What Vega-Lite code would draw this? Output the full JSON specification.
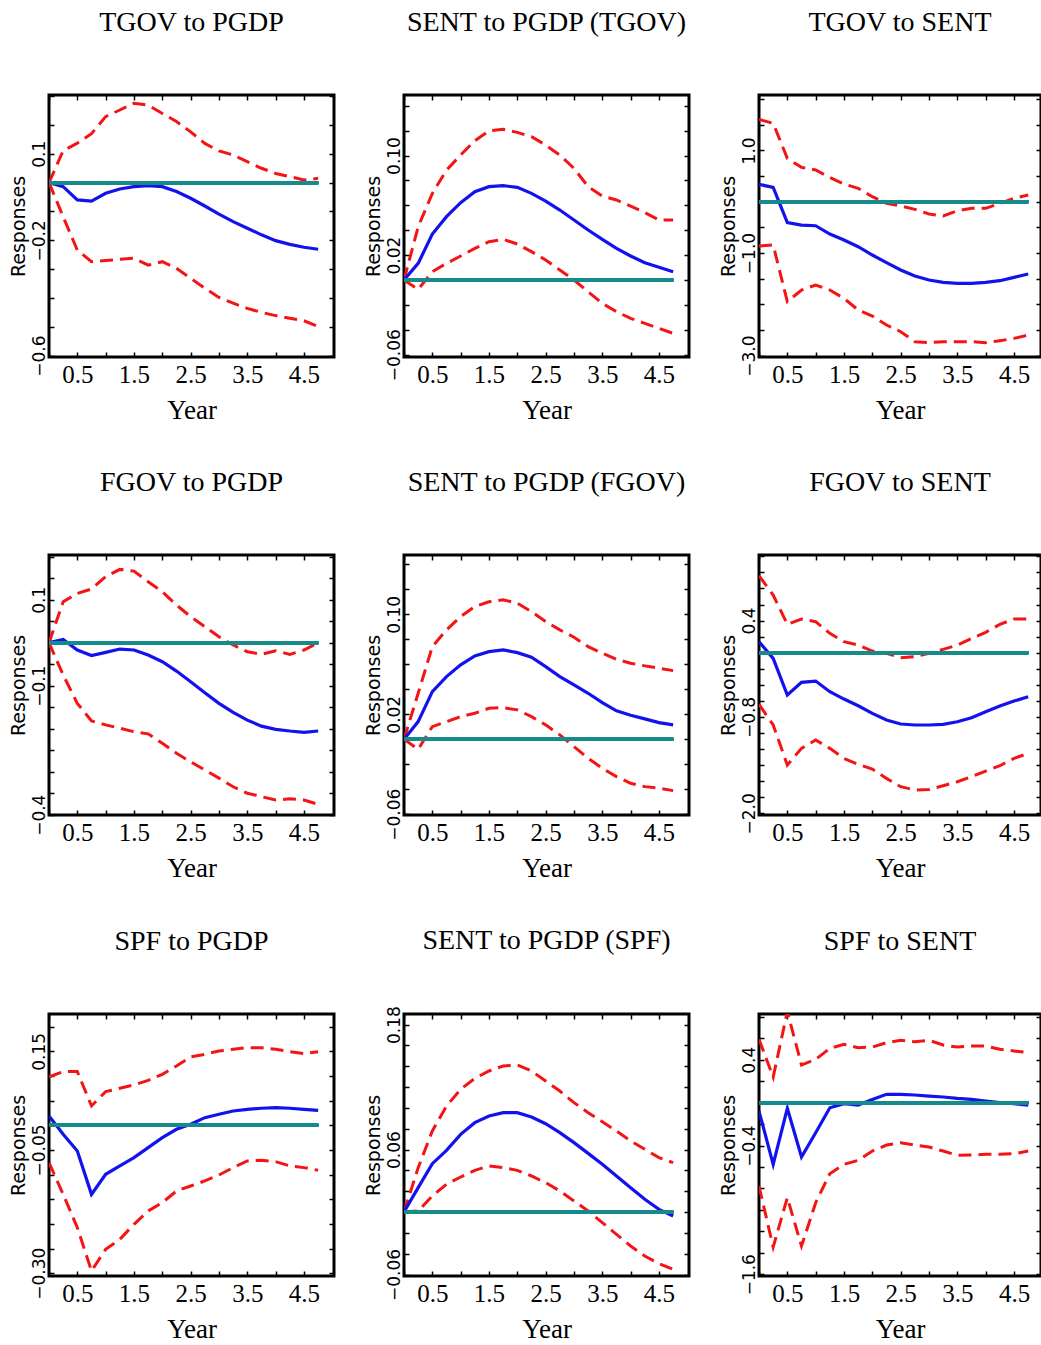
{
"$schema": "https://vega.github.io/schema/vega-lite/v6.json",
"padding": {"left": 7, "top": 7, "right": 0, "bottom": 0},
"background": "white",
"data": {"values": [
{"p":1,"t":0,"lo":0,"md":0,"hi":0},{"p":1,"t":0.25,"lo":-0.118,"md":-0.014,"hi":0.111},{"p":1,"t":0.5,"lo":-0.234,"md":-0.06,"hi":0.137},{"p":1,"t":0.75,"lo":-0.274,"md":-0.064,"hi":0.17},{"p":1,"t":1,"lo":-0.27,"md":-0.037,"hi":0.229},{"p":1,"t":1.25,"lo":-0.266,"md":-0.022,"hi":0.252},{"p":1,"t":1.5,"lo":-0.262,"md":-0.014,"hi":0.275},{"p":1,"t":1.75,"lo":-0.286,"md":-0.01,"hi":0.269},{"p":1,"t":2,"lo":-0.274,"md":-0.014,"hi":0.24},{"p":1,"t":2.25,"lo":-0.297,"md":-0.031,"hi":0.212},{"p":1,"t":2.5,"lo":-0.332,"md":-0.054,"hi":0.176},{"p":1,"t":2.75,"lo":-0.366,"md":-0.081,"hi":0.136},{"p":1,"t":3,"lo":-0.398,"md":-0.109,"hi":0.11},{"p":1,"t":3.25,"lo":-0.418,"md":-0.135,"hi":0.096},{"p":1,"t":3.5,"lo":-0.436,"md":-0.158,"hi":0.073},{"p":1,"t":3.75,"lo":-0.45,"md":-0.181,"hi":0.05},{"p":1,"t":4,"lo":-0.461,"md":-0.201,"hi":0.032},{"p":1,"t":4.25,"lo":-0.47,"md":-0.214,"hi":0.021},{"p":1,"t":4.5,"lo":-0.479,"md":-0.224,"hi":0.009},{"p":1,"t":4.75,"lo":-0.499,"md":-0.231,"hi":0.015},
{"p":2,"t":0,"lo":0,"md":0,"hi":0},{"p":2,"t":0.25,"lo":-0.0075,"md":0.0134,"hi":0.0428},{"p":2,"t":0.5,"lo":0.0067,"md":0.0369,"hi":0.0696},{"p":2,"t":0.75,"lo":0.0134,"md":0.0509,"hi":0.0883},{"p":2,"t":1,"lo":0.0193,"md":0.0621,"hi":0.1004},{"p":2,"t":1.25,"lo":0.0254,"md":0.0709,"hi":0.1119},{"p":2,"t":1.5,"lo":0.0308,"md":0.075,"hi":0.1199},{"p":2,"t":1.75,"lo":0.0327,"md":0.0758,"hi":0.121},{"p":2,"t":2,"lo":0.0289,"md":0.0744,"hi":0.1186},{"p":2,"t":2.25,"lo":0.0228,"md":0.0696,"hi":0.1151},{"p":2,"t":2.5,"lo":0.0161,"md":0.0634,"hi":0.1084},{"p":2,"t":2.75,"lo":0.008,"md":0.0562,"hi":0.1004},{"p":2,"t":3,"lo":0,"md":0.0482,"hi":0.0897},{"p":2,"t":3.25,"lo":-0.0094,"md":0.0402,"hi":0.075},{"p":2,"t":3.5,"lo":-0.0187,"md":0.0327,"hi":0.0675},{"p":2,"t":3.75,"lo":-0.0254,"md":0.0254,"hi":0.0643},{"p":2,"t":4,"lo":-0.0308,"md":0.0193,"hi":0.0594},{"p":2,"t":4.25,"lo":-0.0348,"md":0.0139,"hi":0.0541},{"p":2,"t":4.5,"lo":-0.0388,"md":0.0102,"hi":0.0482},{"p":2,"t":4.75,"lo":-0.0428,"md":0.0067,"hi":0.0482},
{"p":3,"t":0,"lo":-0.864,"md":0.338,"hi":1.604},{"p":3,"t":0.25,"lo":-0.844,"md":0.279,"hi":1.526},{"p":3,"t":0.5,"lo":-1.948,"md":-0.409,"hi":0.844},{"p":3,"t":0.75,"lo":-1.721,"md":-0.455,"hi":0.669},{"p":3,"t":1,"lo":-1.623,"md":-0.468,"hi":0.617},{"p":3,"t":1.25,"lo":-1.721,"md":-0.63,"hi":0.474},{"p":3,"t":1.5,"lo":-1.883,"md":-0.747,"hi":0.344},{"p":3,"t":1.75,"lo":-2.11,"md":-0.877,"hi":0.26},{"p":3,"t":2,"lo":-2.227,"md":-1.039,"hi":0.097},{"p":3,"t":2.25,"lo":-2.403,"md":-1.188,"hi":-0.032},{"p":3,"t":2.5,"lo":-2.533,"md":-1.331,"hi":-0.084},{"p":3,"t":2.75,"lo":-2.727,"md":-1.448,"hi":-0.149},{"p":3,"t":3,"lo":-2.747,"md":-1.526,"hi":-0.24},{"p":3,"t":3.25,"lo":-2.727,"md":-1.572,"hi":-0.279},{"p":3,"t":3.5,"lo":-2.727,"md":-1.591,"hi":-0.175},{"p":3,"t":3.75,"lo":-2.727,"md":-1.591,"hi":-0.13},{"p":3,"t":4,"lo":-2.747,"md":-1.572,"hi":-0.13},{"p":3,"t":4.25,"lo":-2.708,"md":-1.539,"hi":-0.032},{"p":3,"t":4.5,"lo":-2.663,"md":-1.474,"hi":0.065},{"p":3,"t":4.75,"lo":-2.598,"md":-1.409,"hi":0.13},
{"p":4,"t":0,"lo":0,"md":0,"hi":0},{"p":4,"t":0.25,"lo":-0.075,"md":0.0078,"hi":0.0953},{"p":4,"t":0.5,"lo":-0.141,"md":-0.017,"hi":0.1147},{"p":4,"t":0.75,"lo":-0.182,"md":-0.03,"hi":0.125},{"p":4,"t":1,"lo":-0.191,"md":-0.0225,"hi":0.1535},{"p":4,"t":1.25,"lo":-0.199,"md":-0.0147,"hi":0.1705},{"p":4,"t":1.5,"lo":-0.207,"md":-0.017,"hi":0.1666},{"p":4,"t":1.75,"lo":-0.212,"md":-0.0287,"hi":0.1418},{"p":4,"t":2,"lo":-0.234,"md":-0.0442,"hi":0.1186},{"p":4,"t":2.25,"lo":-0.257,"md":-0.0659,"hi":0.0876},{"p":4,"t":2.5,"lo":-0.277,"md":-0.0907,"hi":0.0605},{"p":4,"t":2.75,"lo":-0.296,"md":-0.1163,"hi":0.0372},{"p":4,"t":3,"lo":-0.315,"md":-0.141,"hi":0.014},{"p":4,"t":3.25,"lo":-0.335,"md":-0.162,"hi":-0.0054},{"p":4,"t":3.5,"lo":-0.35,"md":-0.18,"hi":-0.0209},{"p":4,"t":3.75,"lo":-0.358,"md":-0.194,"hi":-0.0271},{"p":4,"t":4,"lo":-0.366,"md":-0.2015,"hi":-0.0186},{"p":4,"t":4.25,"lo":-0.363,"md":-0.2054,"hi":-0.0271},{"p":4,"t":4.5,"lo":-0.366,"md":-0.2085,"hi":-0.017},{"p":4,"t":4.75,"lo":-0.376,"md":-0.2054,"hi":0},
{"p":5,"t":0,"lo":0,"md":0,"hi":0},{"p":5,"t":0.25,"lo":-0.008,"md":0.0141,"hi":0.0368},{"p":5,"t":0.5,"lo":0.0101,"md":0.0381,"hi":0.0741},{"p":5,"t":0.75,"lo":0.0141,"md":0.0501,"hi":0.0875},{"p":5,"t":1,"lo":0.0181,"md":0.0595,"hi":0.0981},{"p":5,"t":1.25,"lo":0.0208,"md":0.0667,"hi":0.1061},{"p":5,"t":1.5,"lo":0.0248,"md":0.0701,"hi":0.11},{"p":5,"t":1.75,"lo":0.0253,"md":0.0715,"hi":0.1115},{"p":5,"t":2,"lo":0.0235,"md":0.0693,"hi":0.1088},{"p":5,"t":2.25,"lo":0.0181,"md":0.0656,"hi":0.1021},{"p":5,"t":2.5,"lo":0.0115,"md":0.0581,"hi":0.0941},{"p":5,"t":2.75,"lo":0.0035,"md":0.0501,"hi":0.0875},{"p":5,"t":3,"lo":-0.0059,"md":0.0435,"hi":0.0816},{"p":5,"t":3.25,"lo":-0.0152,"md":0.0368,"hi":0.0741},{"p":5,"t":3.5,"lo":-0.0232,"md":0.0293,"hi":0.0688},{"p":5,"t":3.75,"lo":-0.0299,"md":0.0227,"hi":0.064},{"p":5,"t":4,"lo":-0.0352,"md":0.0192,"hi":0.0608},{"p":5,"t":4.25,"lo":-0.0379,"md":0.0163,"hi":0.0587},{"p":5,"t":4.5,"lo":-0.0392,"md":0.0133,"hi":0.0568},{"p":5,"t":4.75,"lo":-0.0411,"md":0.0115,"hi":0.0549},
{"p":6,"t":0,"lo":-0.643,"md":0.137,"hi":0.959},{"p":6,"t":0.25,"lo":-0.9,"md":-0.0705,"hi":0.718},{"p":6,"t":0.5,"lo":-1.399,"md":-0.527,"hi":0.353},{"p":6,"t":0.75,"lo":-1.191,"md":-0.369,"hi":0.419},{"p":6,"t":1,"lo":-1.087,"md":-0.353,"hi":0.386},{"p":6,"t":1.25,"lo":-1.191,"md":-0.486,"hi":0.241},{"p":6,"t":1.5,"lo":-1.316,"md":-0.577,"hi":0.137},{"p":6,"t":1.75,"lo":-1.39,"md":-0.66,"hi":0.095},{"p":6,"t":2,"lo":-1.448,"md":-0.755,"hi":0.021},{"p":6,"t":2.25,"lo":-1.565,"md":-0.838,"hi":-0.008},{"p":6,"t":2.5,"lo":-1.668,"md":-0.888,"hi":-0.062},{"p":6,"t":2.75,"lo":-1.71,"md":-0.9,"hi":-0.05},{"p":6,"t":3,"lo":-1.702,"md":-0.9,"hi":-0.008},{"p":6,"t":3.25,"lo":-1.656,"md":-0.892,"hi":0.042},{"p":6,"t":3.5,"lo":-1.606,"md":-0.859,"hi":0.095},{"p":6,"t":3.75,"lo":-1.544,"md":-0.809,"hi":0.178},{"p":6,"t":4,"lo":-1.473,"md":-0.735,"hi":0.253},{"p":6,"t":4.25,"lo":-1.407,"md":-0.664,"hi":0.353},{"p":6,"t":4.5,"lo":-1.316,"md":-0.602,"hi":0.419},{"p":6,"t":4.75,"lo":-1.253,"md":-0.548,"hi":0.419},
{"p":7,"t":0,"lo":-0.0757,"md":0.0189,"hi":0.098},{"p":7,"t":0.25,"lo":-0.14,"md":-0.0182,"hi":0.1088},{"p":7,"t":0.5,"lo":-0.2074,"md":-0.052,"hi":0.1088},{"p":7,"t":0.75,"lo":-0.2953,"md":-0.14,"hi":0.0392},{"p":7,"t":1,"lo":-0.2514,"md":-0.0993,"hi":0.0682},{"p":7,"t":1.25,"lo":-0.2311,"md":-0.0824,"hi":0.075},{"p":7,"t":1.5,"lo":-0.2007,"md":-0.0655,"hi":0.0818},{"p":7,"t":1.75,"lo":-0.1737,"md":-0.0453,"hi":0.0912},{"p":7,"t":2,"lo":-0.1568,"md":-0.025,"hi":0.1034},{"p":7,"t":2.25,"lo":-0.1331,"md":-0.0081,"hi":0.1203},{"p":7,"t":2.5,"lo":-0.123,"md":0.002,"hi":0.1385},{"p":7,"t":2.75,"lo":-0.1128,"md":0.0155,"hi":0.1439},{"p":7,"t":3,"lo":-0.1007,"md":0.0223,"hi":0.1507},{"p":7,"t":3.25,"lo":-0.0858,"md":0.029,"hi":0.154},{"p":7,"t":3.5,"lo":-0.0723,"md":0.0324,"hi":0.1574},{"p":7,"t":3.75,"lo":-0.0709,"md":0.0345,"hi":0.1574},{"p":7,"t":4,"lo":-0.0737,"md":0.0358,"hi":0.154},{"p":7,"t":4.25,"lo":-0.0824,"md":0.0345,"hi":0.1493},{"p":7,"t":4.5,"lo":-0.0858,"md":0.0324,"hi":0.1453},{"p":7,"t":4.75,"lo":-0.0912,"md":0.0304,"hi":0.1493},
{"p":8,"t":0,"lo":0,"md":0,"hi":0},{"p":8,"t":0.25,"lo":0.001,"md":0.0234,"hi":0.0426},{"p":8,"t":0.5,"lo":0.0154,"md":0.0464,"hi":0.0778},{"p":8,"t":0.75,"lo":0.0266,"md":0.0592,"hi":0.1018},{"p":8,"t":1,"lo":0.0336,"md":0.0746,"hi":0.1178},{"p":8,"t":1.25,"lo":0.04,"md":0.0858,"hi":0.1283},{"p":8,"t":1.5,"lo":0.0442,"md":0.0922,"hi":0.1354},{"p":8,"t":1.75,"lo":0.0426,"md":0.0954,"hi":0.1402},{"p":8,"t":2,"lo":0.04,"md":0.0954,"hi":0.1411},{"p":8,"t":2.25,"lo":0.0346,"md":0.0912,"hi":0.1354},{"p":8,"t":2.5,"lo":0.0282,"md":0.0848,"hi":0.1258},{"p":8,"t":2.75,"lo":0.0202,"md":0.0762,"hi":0.1162},{"p":8,"t":3,"lo":0.0106,"md":0.0666,"hi":0.105},{"p":8,"t":3.25,"lo":0.001,"md":0.0563,"hi":0.0954},{"p":8,"t":3.5,"lo":-0.0102,"md":0.0458,"hi":0.0867},{"p":8,"t":3.75,"lo":-0.0214,"md":0.0346,"hi":0.0778},{"p":8,"t":4,"lo":-0.0326,"md":0.0234,"hi":0.0682},{"p":8,"t":4.25,"lo":-0.0422,"md":0.0122,"hi":0.0602},{"p":8,"t":4.5,"lo":-0.0496,"md":0.0026,"hi":0.0522},{"p":8,"t":4.75,"lo":-0.055,"md":-0.0038,"hi":0.0474},
{"p":9,"t":0,"lo":-0.778,"md":-0.078,"hi":0.591},{"p":9,"t":0.25,"lo":-1.347,"md":-0.575,"hi":0.239},{"p":9,"t":0.5,"lo":-0.886,"md":-0.053,"hi":0.85},{"p":9,"t":0.75,"lo":-1.337,"md":-0.507,"hi":0.351},{"p":9,"t":1,"lo":-0.933,"md":-0.28,"hi":0.404},{"p":9,"t":1.25,"lo":-0.662,"md":-0.047,"hi":0.507},{"p":9,"t":1.5,"lo":-0.575,"md":-0.009,"hi":0.544},{"p":9,"t":1.75,"lo":-0.538,"md":-0.022,"hi":0.513},{"p":9,"t":2,"lo":-0.451,"md":0.031,"hi":0.519},{"p":9,"t":2.25,"lo":-0.395,"md":0.078,"hi":0.56},{"p":9,"t":2.5,"lo":-0.373,"md":0.078,"hi":0.582},{"p":9,"t":2.75,"lo":-0.395,"md":0.072,"hi":0.569},{"p":9,"t":3,"lo":-0.414,"md":0.062,"hi":0.582},{"p":9,"t":3.25,"lo":-0.451,"md":0.053,"hi":0.538},{"p":9,"t":3.5,"lo":-0.491,"md":0.04,"hi":0.519},{"p":9,"t":3.75,"lo":-0.488,"md":0.031,"hi":0.529},{"p":9,"t":4,"lo":-0.482,"md":0.016,"hi":0.529},{"p":9,"t":4.25,"lo":-0.482,"md":0,"hi":0.498},{"p":9,"t":4.5,"lo":-0.476,"md":-0.009,"hi":0.482},{"p":9,"t":4.75,"lo":-0.451,"md":-0.022,"hi":0.467}
]},
"vconcat": [
{"hconcat": [
{"title": {"text": "TGOV to PGDP"}, "width": 285, "height": 262,
 "transform": [{"filter": "datum.p==1"}],
 "layer": [
  {"mark": {"type": "line", "color": "#F41414", "strokeWidth": 3, "strokeDash": [13, 7], "clip": true},
   "encoding": {"x": {"field": "t", "type": "quantitative", "scale": {"domain": [0, 5.03], "nice": false, "zero": false}, "axis": {"values": [0,0.5,1,1.5,2,2.5,3,3.5,4,4.5], "labelExpr": "(datum.value*2)%2==1 ? format(datum.value,'.1f') : ''", "title": "Year"}},
    "y": {"field": "lo", "type": "quantitative", "scale": {"domain": [-0.6046, 0.304], "nice": false, "zero": false}, "axis": {"values": [-0.6,-0.5,-0.4,-0.3,-0.2,-0.1,0,0.1,0.2,0.3], "labelExpr": "datum.value==-0.6?'−0.6':datum.value==-0.2?'−0.2':datum.value==0.1?'0.1':''", "title": "Responses"}}}},
  {"mark": {"type": "line", "color": "#F41414", "strokeWidth": 3, "strokeDash": [13, 7], "clip": true},
   "encoding": {"x": {"field": "t", "type": "quantitative", "axis": null}, "y": {"field": "hi", "type": "quantitative", "axis": null}}},
  {"mark": {"type": "line", "color": "#1212EE", "strokeWidth": 3.2, "clip": true},
   "encoding": {"x": {"field": "t", "type": "quantitative", "axis": null}, "y": {"field": "md", "type": "quantitative", "axis": null}}},
  {"mark": {"type": "rule", "color": "#178A8A", "strokeWidth": 3},
   "encoding": {"x": {"datum": 0, "axis": {"orient": "top", "values": [0,0.5,1,1.5,2,2.5,3,3.5,4,4.5], "labels": false, "title": null}}, "x2": {"datum": 4.75},
    "y": {"datum": 0, "axis": {"orient": "right", "values": [-0.6,-0.5,-0.4,-0.3,-0.2,-0.1,0,0.1,0.2,0.3], "labels": false, "title": null}}}}
 ],
 "resolve": {"axis": {"x": "independent", "y": "independent"}}},
{"title": {"text": "SENT to PGDP (TGOV)"}, "width": 285, "height": 262,
 "transform": [{"filter": "datum.p==2"}],
 "layer": [
  {"mark": {"type": "line", "color": "#F41414", "strokeWidth": 3, "strokeDash": [13, 7], "clip": true},
   "encoding": {"x": {"field": "t", "type": "quantitative", "scale": {"domain": [0, 5.03], "nice": false, "zero": false}, "axis": {"values": [0,0.5,1,1.5,2,2.5,3,3.5,4,4.5], "labelExpr": "(datum.value*2)%2==1 ? format(datum.value,'.1f') : ''", "title": "Year"}},
    "y": {"field": "lo", "type": "quantitative", "scale": {"domain": [-0.0618, 0.1486], "nice": false, "zero": false}, "axis": {"values": [-0.06,-0.04,-0.02,0,0.02,0.04,0.06,0.08,0.1,0.12,0.14], "labelExpr": "datum.value==-0.06?'−0.06':datum.value==0.02?'0.02':datum.value==0.1?'0.10':''", "title": "Responses"}}}},
  {"mark": {"type": "line", "color": "#F41414", "strokeWidth": 3, "strokeDash": [13, 7], "clip": true},
   "encoding": {"x": {"field": "t", "type": "quantitative", "axis": null}, "y": {"field": "hi", "type": "quantitative", "axis": null}}},
  {"mark": {"type": "line", "color": "#1212EE", "strokeWidth": 3.2, "clip": true},
   "encoding": {"x": {"field": "t", "type": "quantitative", "axis": null}, "y": {"field": "md", "type": "quantitative", "axis": null}}},
  {"mark": {"type": "rule", "color": "#178A8A", "strokeWidth": 3},
   "encoding": {"x": {"datum": 0, "axis": {"orient": "top", "values": [0,0.5,1,1.5,2,2.5,3,3.5,4,4.5], "labels": false, "title": null}}, "x2": {"datum": 4.75},
    "y": {"datum": 0, "axis": {"orient": "right", "values": [-0.06,-0.04,-0.02,0,0.02,0.04,0.06,0.08,0.1,0.12,0.14], "labels": false, "title": null}}}}
 ],
 "resolve": {"axis": {"x": "independent", "y": "independent"}}},
{"title": {"text": "TGOV to SENT"}, "width": 282, "height": 262,
 "transform": [{"filter": "datum.p==3"}],
 "layer": [
  {"mark": {"type": "line", "color": "#F41414", "strokeWidth": 3, "strokeDash": [13, 7], "clip": true},
   "encoding": {"x": {"field": "t", "type": "quantitative", "scale": {"domain": [0, 4.976], "nice": false, "zero": false}, "axis": {"values": [0,0.5,1,1.5,2,2.5,3,3.5,4,4.5], "labelExpr": "(datum.value*2)%2==1 ? format(datum.value,'.1f') : ''", "title": "Year"}},
    "y": {"field": "lo", "type": "quantitative", "scale": {"domain": [-3.0255, 2.0787], "nice": false, "zero": false}, "axis": {"values": [-3,-2.5,-2,-1.5,-1,-0.5,0,0.5,1,1.5,2], "labelExpr": "datum.value==-3?'−3.0':datum.value==-1?'−1.0':datum.value==1?'1.0':''", "title": "Responses"}}}},
  {"mark": {"type": "line", "color": "#F41414", "strokeWidth": 3, "strokeDash": [13, 7], "clip": true},
   "encoding": {"x": {"field": "t", "type": "quantitative", "axis": null}, "y": {"field": "hi", "type": "quantitative", "axis": null}}},
  {"mark": {"type": "line", "color": "#1212EE", "strokeWidth": 3.2, "clip": true},
   "encoding": {"x": {"field": "t", "type": "quantitative", "axis": null}, "y": {"field": "md", "type": "quantitative", "axis": null}}},
  {"mark": {"type": "rule", "color": "#178A8A", "strokeWidth": 3},
   "encoding": {"x": {"datum": 0, "axis": {"orient": "top", "values": [0,0.5,1,1.5,2,2.5,3,3.5,4,4.5], "labels": false, "title": null}}, "x2": {"datum": 4.75},
    "y": {"datum": 0, "axis": {"orient": "right", "values": [-3,-2.5,-2,-1.5,-1,-0.5,0,0.5,1,1.5,2], "labels": false, "title": null}}}}
 ],
 "resolve": {"axis": {"x": "independent", "y": "independent"}}}
]},
{"hconcat": [
{"title": {"text": "FGOV to PGDP"}, "width": 285, "height": 260,
 "transform": [{"filter": "datum.p==4"}],
 "layer": [
  {"mark": {"type": "line", "color": "#F41414", "strokeWidth": 3, "strokeDash": [13, 7], "clip": true},
   "encoding": {"x": {"field": "t", "type": "quantitative", "scale": {"domain": [0, 5.03], "nice": false, "zero": false}, "axis": {"values": [0,0.5,1,1.5,2,2.5,3,3.5,4,4.5], "labelExpr": "(datum.value*2)%2==1 ? format(datum.value,'.1f') : ''", "title": "Year"}},
    "y": {"field": "lo", "type": "quantitative", "scale": {"domain": [-0.4007, 0.204], "nice": false, "zero": false}, "axis": {"values": [-0.4,-0.35,-0.3,-0.25,-0.2,-0.15,-0.1,-0.05,0,0.05,0.1,0.15,0.2], "labelExpr": "datum.value==-0.4?'−0.4':datum.value==-0.1?'−0.1':datum.value==0.1?'0.1':''", "title": "Responses"}}}},
  {"mark": {"type": "line", "color": "#F41414", "strokeWidth": 3, "strokeDash": [13, 7], "clip": true},
   "encoding": {"x": {"field": "t", "type": "quantitative", "axis": null}, "y": {"field": "hi", "type": "quantitative", "axis": null}}},
  {"mark": {"type": "line", "color": "#1212EE", "strokeWidth": 3.2, "clip": true},
   "encoding": {"x": {"field": "t", "type": "quantitative", "axis": null}, "y": {"field": "md", "type": "quantitative", "axis": null}}},
  {"mark": {"type": "rule", "color": "#178A8A", "strokeWidth": 3},
   "encoding": {"x": {"datum": 0, "axis": {"orient": "top", "values": [0,0.5,1,1.5,2,2.5,3,3.5,4,4.5], "labels": false, "title": null}}, "x2": {"datum": 4.75},
    "y": {"datum": 0, "axis": {"orient": "right", "values": [-0.4,-0.35,-0.3,-0.25,-0.2,-0.15,-0.1,-0.05,0,0.05,0.1,0.15,0.2], "labels": false, "title": null}}}}
 ],
 "resolve": {"axis": {"x": "independent", "y": "independent"}}},
{"title": {"text": "SENT to PGDP (FGOV)"}, "width": 285, "height": 260,
 "transform": [{"filter": "datum.p==5"}],
 "layer": [
  {"mark": {"type": "line", "color": "#F41414", "strokeWidth": 3, "strokeDash": [13, 7], "clip": true},
   "encoding": {"x": {"field": "t", "type": "quantitative", "scale": {"domain": [0, 5.03], "nice": false, "zero": false}, "axis": {"values": [0,0.5,1,1.5,2,2.5,3,3.5,4,4.5], "labelExpr": "(datum.value*2)%2==1 ? format(datum.value,'.1f') : ''", "title": "Year"}},
    "y": {"field": "lo", "type": "quantitative", "scale": {"domain": [-0.0606, 0.1474], "nice": false, "zero": false}, "axis": {"values": [-0.06,-0.04,-0.02,0,0.02,0.04,0.06,0.08,0.1,0.12,0.14], "labelExpr": "datum.value==-0.06?'−0.06':datum.value==0.02?'0.02':datum.value==0.1?'0.10':''", "title": "Responses"}}}},
  {"mark": {"type": "line", "color": "#F41414", "strokeWidth": 3, "strokeDash": [13, 7], "clip": true},
   "encoding": {"x": {"field": "t", "type": "quantitative", "axis": null}, "y": {"field": "hi", "type": "quantitative", "axis": null}}},
  {"mark": {"type": "line", "color": "#1212EE", "strokeWidth": 3.2, "clip": true},
   "encoding": {"x": {"field": "t", "type": "quantitative", "axis": null}, "y": {"field": "md", "type": "quantitative", "axis": null}}},
  {"mark": {"type": "rule", "color": "#178A8A", "strokeWidth": 3},
   "encoding": {"x": {"datum": 0, "axis": {"orient": "top", "values": [0,0.5,1,1.5,2,2.5,3,3.5,4,4.5], "labels": false, "title": null}}, "x2": {"datum": 4.75},
    "y": {"datum": 0, "axis": {"orient": "right", "values": [-0.06,-0.04,-0.02,0,0.02,0.04,0.06,0.08,0.1,0.12,0.14], "labels": false, "title": null}}}}
 ],
 "resolve": {"axis": {"x": "independent", "y": "independent"}}},
{"title": {"text": "FGOV to SENT"}, "width": 282, "height": 260,
 "transform": [{"filter": "datum.p==6"}],
 "layer": [
  {"mark": {"type": "line", "color": "#F41414", "strokeWidth": 3, "strokeDash": [13, 7], "clip": true},
   "encoding": {"x": {"field": "t", "type": "quantitative", "scale": {"domain": [0, 4.976], "nice": false, "zero": false}, "axis": {"values": [0,0.5,1,1.5,2,2.5,3,3.5,4,4.5], "labelExpr": "(datum.value*2)%2==1 ? format(datum.value,'.1f') : ''", "title": "Year"}},
    "y": {"field": "lo", "type": "quantitative", "scale": {"domain": [-2.0204, 1.2162], "nice": false, "zero": false}, "axis": {"values": [-2,-1.8,-1.6,-1.4,-1.2,-1,-0.8,-0.6,-0.4,-0.2,0,0.2,0.4,0.6,0.8,1,1.2], "labelExpr": "datum.value==-2?'−2.0':datum.value==-0.8?'−0.8':datum.value==0.4?'0.4':''", "title": "Responses"}}}},
  {"mark": {"type": "line", "color": "#F41414", "strokeWidth": 3, "strokeDash": [13, 7], "clip": true},
   "encoding": {"x": {"field": "t", "type": "quantitative", "axis": null}, "y": {"field": "hi", "type": "quantitative", "axis": null}}},
  {"mark": {"type": "line", "color": "#1212EE", "strokeWidth": 3.2, "clip": true},
   "encoding": {"x": {"field": "t", "type": "quantitative", "axis": null}, "y": {"field": "md", "type": "quantitative", "axis": null}}},
  {"mark": {"type": "rule", "color": "#178A8A", "strokeWidth": 3},
   "encoding": {"x": {"datum": 0, "axis": {"orient": "top", "values": [0,0.5,1,1.5,2,2.5,3,3.5,4,4.5], "labels": false, "title": null}}, "x2": {"datum": 4.75},
    "y": {"datum": 0, "axis": {"orient": "right", "values": [-2,-1.8,-1.6,-1.4,-1.2,-1,-0.8,-0.6,-0.4,-0.2,0,0.2,0.4,0.6,0.8,1,1.2], "labels": false, "title": null}}}}
 ],
 "resolve": {"axis": {"x": "independent", "y": "independent"}}}
]},
{"hconcat": [
{"title": {"text": "SPF to PGDP"}, "width": 285, "height": 262,
 "transform": [{"filter": "datum.p==7"}],
 "layer": [
  {"mark": {"type": "line", "color": "#F41414", "strokeWidth": 3, "strokeDash": [13, 7], "clip": true},
   "encoding": {"x": {"field": "t", "type": "quantitative", "scale": {"domain": [0, 5.03], "nice": false, "zero": false}, "axis": {"values": [0,0.5,1,1.5,2,2.5,3,3.5,4,4.5], "labelExpr": "(datum.value*2)%2==1 ? format(datum.value,'.1f') : ''", "title": "Year"}},
    "y": {"field": "lo", "type": "quantitative", "scale": {"domain": [-0.3055, 0.2256], "nice": false, "zero": false}, "axis": {"values": [-0.3,-0.25,-0.2,-0.15,-0.1,-0.05,0,0.05,0.1,0.15,0.2], "labelExpr": "datum.value==-0.3?'−0.30':datum.value==-0.05?'−0.05':datum.value==0.15?'0.15':''", "title": "Responses"}}}},
  {"mark": {"type": "line", "color": "#F41414", "strokeWidth": 3, "strokeDash": [13, 7], "clip": true},
   "encoding": {"x": {"field": "t", "type": "quantitative", "axis": null}, "y": {"field": "hi", "type": "quantitative", "axis": null}}},
  {"mark": {"type": "line", "color": "#1212EE", "strokeWidth": 3.2, "clip": true},
   "encoding": {"x": {"field": "t", "type": "quantitative", "axis": null}, "y": {"field": "md", "type": "quantitative", "axis": null}}},
  {"mark": {"type": "rule", "color": "#178A8A", "strokeWidth": 3},
   "encoding": {"x": {"datum": 0, "axis": {"orient": "top", "values": [0,0.5,1,1.5,2,2.5,3,3.5,4,4.5], "labels": false, "title": null}}, "x2": {"datum": 4.75},
    "y": {"datum": 0, "axis": {"orient": "right", "values": [-0.3,-0.25,-0.2,-0.15,-0.1,-0.05,0,0.05,0.1,0.15,0.2], "labels": false, "title": null}}}}
 ],
 "resolve": {"axis": {"x": "independent", "y": "independent"}}},
{"title": {"text": "SENT to PGDP (SPF)", "offset": 51}, "width": 285, "height": 262,
 "transform": [{"filter": "datum.p==8"}],
 "layer": [
  {"mark": {"type": "line", "color": "#F41414", "strokeWidth": 3, "strokeDash": [13, 7], "clip": true},
   "encoding": {"x": {"field": "t", "type": "quantitative", "scale": {"domain": [0, 5.03], "nice": false, "zero": false}, "axis": {"values": [0,0.5,1,1.5,2,2.5,3,3.5,4,4.5], "labelExpr": "(datum.value*2)%2==1 ? format(datum.value,'.1f') : ''", "title": "Year"}},
    "y": {"field": "lo", "type": "quantitative", "scale": {"domain": [-0.0614, 0.1901], "nice": false, "zero": false}, "axis": {"values": [-0.06,-0.04,-0.02,0,0.02,0.04,0.06,0.08,0.1,0.12,0.14,0.16,0.18], "labelExpr": "datum.value==-0.06?'−0.06':datum.value==0.06?'0.06':datum.value==0.18?'0.18':''", "title": "Responses"}}}},
  {"mark": {"type": "line", "color": "#F41414", "strokeWidth": 3, "strokeDash": [13, 7], "clip": true},
   "encoding": {"x": {"field": "t", "type": "quantitative", "axis": null}, "y": {"field": "hi", "type": "quantitative", "axis": null}}},
  {"mark": {"type": "line", "color": "#1212EE", "strokeWidth": 3.2, "clip": true},
   "encoding": {"x": {"field": "t", "type": "quantitative", "axis": null}, "y": {"field": "md", "type": "quantitative", "axis": null}}},
  {"mark": {"type": "rule", "color": "#178A8A", "strokeWidth": 3},
   "encoding": {"x": {"datum": 0, "axis": {"orient": "top", "values": [0,0.5,1,1.5,2,2.5,3,3.5,4,4.5], "labels": false, "title": null}}, "x2": {"datum": 4.75},
    "y": {"datum": 0, "axis": {"orient": "right", "values": [-0.06,-0.04,-0.02,0,0.02,0.04,0.06,0.08,0.1,0.12,0.14,0.16,0.18], "labels": false, "title": null}}}}
 ],
 "resolve": {"axis": {"x": "independent", "y": "independent"}}},
{"title": {"text": "SPF to SENT"}, "width": 282, "height": 262,
 "transform": [{"filter": "datum.p==9"}],
 "layer": [
  {"mark": {"type": "line", "color": "#F41414", "strokeWidth": 3, "strokeDash": [13, 7], "clip": true},
   "encoding": {"x": {"field": "t", "type": "quantitative", "scale": {"domain": [0, 4.976], "nice": false, "zero": false}, "axis": {"values": [0,0.5,1,1.5,2,2.5,3,3.5,4,4.5], "labelExpr": "(datum.value*2)%2==1 ? format(datum.value,'.1f') : ''", "title": "Year"}},
    "y": {"field": "lo", "type": "quantitative", "scale": {"domain": [-1.6166, 0.8274], "nice": false, "zero": false}, "axis": {"values": [-1.6,-1.4,-1.2,-1,-0.8,-0.6,-0.4,-0.2,0,0.2,0.4,0.6,0.8], "labelExpr": "datum.value==-1.6?'−1.6':datum.value==-0.4?'−0.4':datum.value==0.4?'0.4':''", "title": "Responses"}}}},
  {"mark": {"type": "line", "color": "#F41414", "strokeWidth": 3, "strokeDash": [13, 7], "clip": true},
   "encoding": {"x": {"field": "t", "type": "quantitative", "axis": null}, "y": {"field": "hi", "type": "quantitative", "axis": null}}},
  {"mark": {"type": "line", "color": "#1212EE", "strokeWidth": 3.2, "clip": true},
   "encoding": {"x": {"field": "t", "type": "quantitative", "axis": null}, "y": {"field": "md", "type": "quantitative", "axis": null}}},
  {"mark": {"type": "rule", "color": "#178A8A", "strokeWidth": 3},
   "encoding": {"x": {"datum": 0, "axis": {"orient": "top", "values": [0,0.5,1,1.5,2,2.5,3,3.5,4,4.5], "labels": false, "title": null}}, "x2": {"datum": 4.75},
    "y": {"datum": 0, "axis": {"orient": "right", "values": [-1.6,-1.4,-1.2,-1,-0.8,-0.6,-0.4,-0.2,0,0.2,0.4,0.6,0.8], "labels": false, "title": null}}}}
 ],
 "resolve": {"axis": {"x": "independent", "y": "independent"}}}
]}
],
"spacing": 42,
"config": {
 "view": {"stroke": "black", "strokeWidth": 3},
 "concat": {"spacing": 25},
 "axis": {"domain": false, "grid": false, "tickColor": "black", "tickWidth": 1.5, "tickSize": -5, "labelColor": "black", "titleColor": "black", "labelOverlap": false, "labelFlush": false, "labelBound": false},
 "axisX": {"labelFont": "Liberation Serif", "labelFontSize": 25, "labelPadding": 10, "titleFont": "Liberation Serif", "titleFontSize": 27, "titleFontWeight": "normal", "titlePadding": 10},
 "axisY": {"labelFont": "DejaVu Sans", "labelFontSize": 17, "labelAngle": 270, "labelAlign": "center", "labelBaseline": "alphabetic", "labelPadding": 10, "titleFont": "DejaVu Sans", "titleFontSize": 19, "titleFontWeight": "normal", "titlePadding": 2},
 "title": {"font": "Liberation Serif", "fontSize": 28, "fontWeight": "normal", "color": "black", "anchor": "middle", "offset": 57}
}
}
